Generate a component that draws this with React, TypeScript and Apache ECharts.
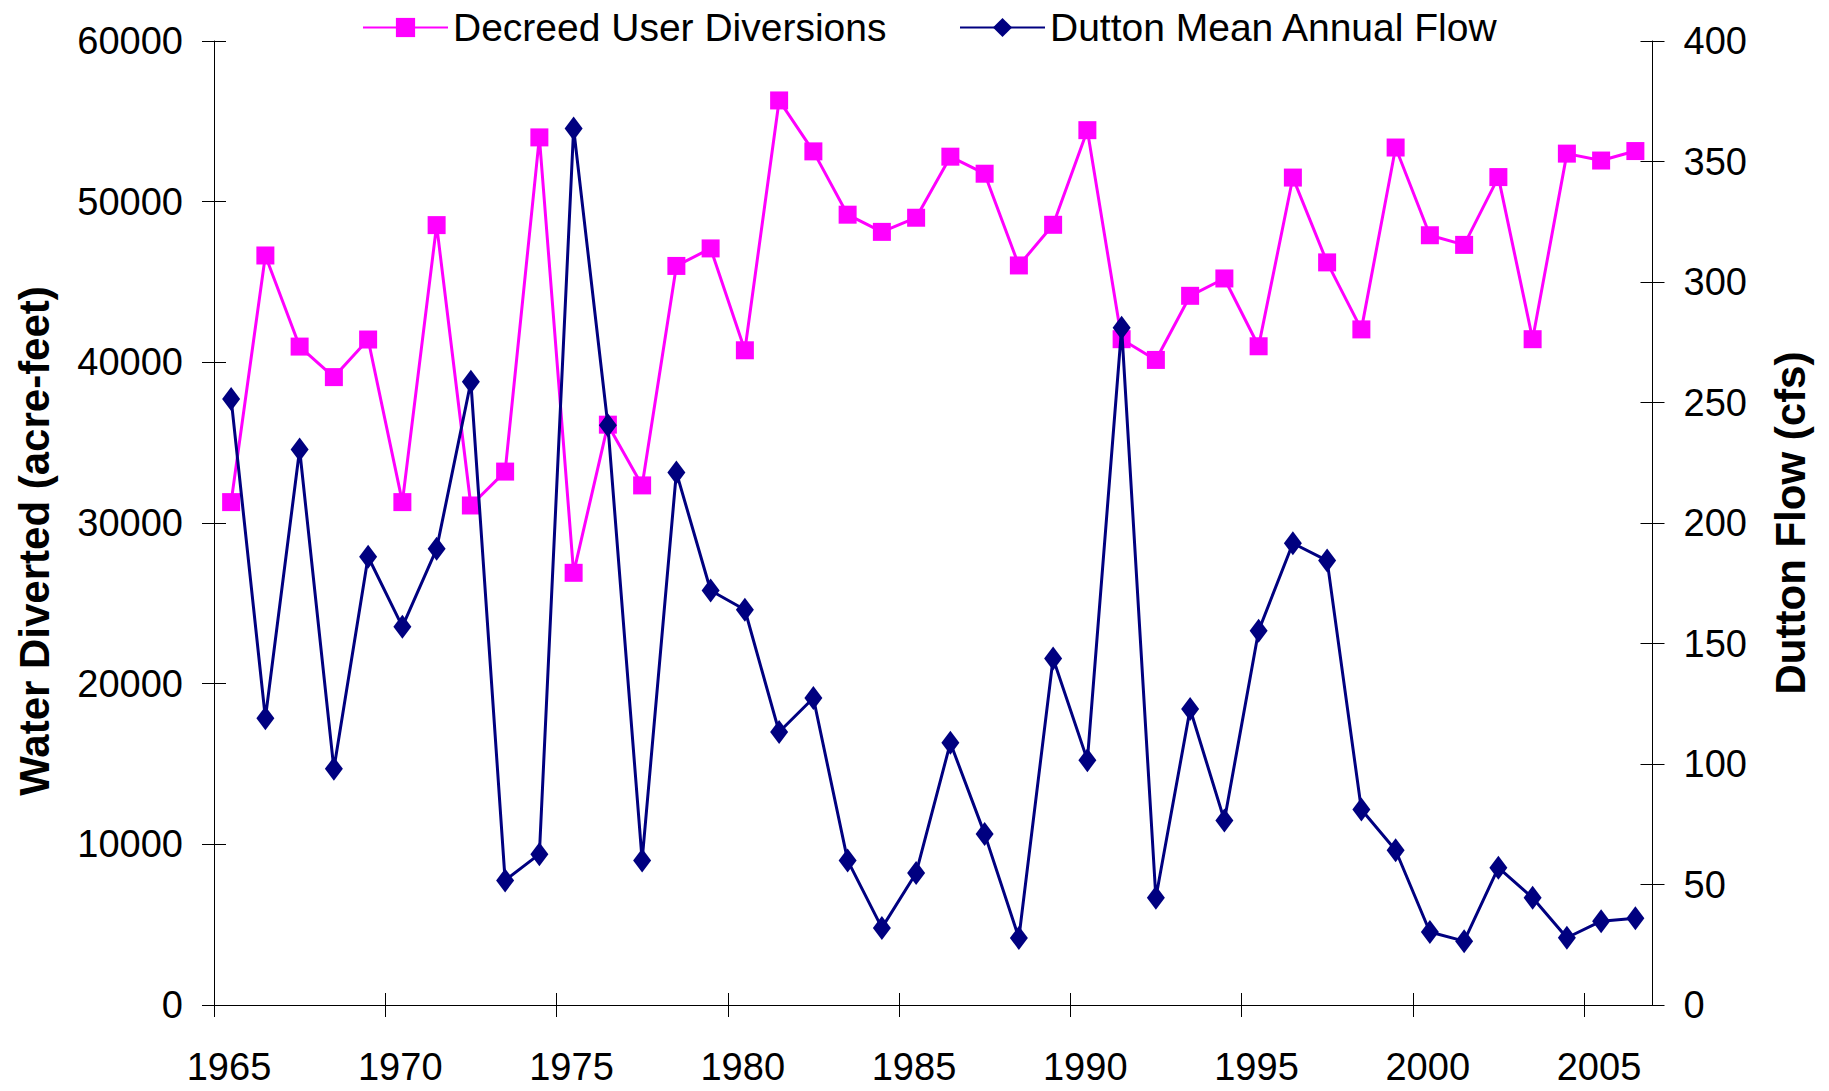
import React, { useEffect, useRef } from "react";
import * as echarts from "echarts";

const years = [
  1965, 1966, 1967, 1968, 1969, 1970, 1971, 1972, 1973, 1974,
  1975, 1976, 1977, 1978, 1979, 1980, 1981, 1982, 1983, 1984,
  1985, 1986, 1987, 1988, 1989, 1990, 1991, 1992, 1993, 1994,
  1995, 1996, 1997, 1998, 1999, 2000, 2001, 2002, 2003, 2004,
  2005, 2006,
];

const diversions = [
  31300, 46650, 40980, 39080, 41420, 31300, 48540, 31090, 33200, 54000,
  26900, 36120, 32340, 46000, 47090, 40750, 56300, 53130, 49190, 48120,
  49000, 52800, 51740, 46030, 48560, 54450, 41440, 40150, 44140, 45220,
  41000, 51500, 46220, 42050, 53370, 47910, 47310, 51530, 41440, 52990,
  52560, 53150,
];

const flow = [
  251.5, 119, 230.5, 98, 186, 157, 189.3, 258.6, 51.7, 62.6,
  363.7, 240.6, 60, 221, 172, 164, 113.3, 127.4, 60, 32,
  54.8, 108.8, 71, 27.8, 143.8, 101.6, 281, 44.5, 122.8, 76.6,
  155.3, 191.6, 184.4, 81.1, 64.2, 30.3, 26.5, 57, 44.5, 27.9,
  34.8, 36,
];

const xTickLabels = [1965, 1970, 1975, 1980, 1985, 1990, 1995, 2000, 2005];
const leftTicks = [0, 10000, 20000, 30000, 40000, 50000, 60000];
const rightTicks = [0, 50, 100, 150, 200, 250, 300, 350, 400];

const seriesNames = ["Decreed User Diversions", "Dutton Mean Annual Flow"];
const leftTitle = "Water Diverted (acre-feet)";
const rightTitle = "Dutton Flow (cfs)";

const FONT = "'Liberation Sans', Arial, sans-serif";
const PINK = "#FF00FF";
const NAVY = "#000080";

export default function App() {
  const ref = useRef<HTMLDivElement>(null);

  useEffect(() => {
    if (!ref.current) return;
    const chart = echarts.init(ref.current, null, { renderer: "svg" });

    const xMin = xTickLabels[0];
    const xMax = 2007;
    const tickLen = 12;

    const baseX = {
      type: "value",
      min: xMin,
      max: xMax,
      interval: 5,
      position: "bottom",
      splitLine: { show: false },
    };
    const baseLeft = {
      type: "value",
      min: leftTicks[0],
      max: leftTicks[leftTicks.length - 1],
      interval: 10000,
      position: "left",
      splitLine: { show: false },
    };
    const baseRight = {
      type: "value",
      min: rightTicks[0],
      max: rightTicks[rightTicks.length - 1],
      interval: 50,
      position: "right",
      splitLine: { show: false },
    };

    const legendText = { fontSize: 39, color: "#000", fontFamily: FONT };

    const option: any = {
      animation: false,
      backgroundColor: "#ffffff",
      textStyle: { fontFamily: FONT },
      grid: { left: 214, right: 176.5, top: 41, bottom: 86, containLabel: false },
      legend: [
        {
          data: [seriesNames[0]],
          left: 362,
          top: 8,
          padding: 0,
          itemWidth: 85,
          itemHeight: 24,
          textStyle: legendText,
        },
        {
          data: [seriesNames[1]],
          left: 959,
          top: 8,
          padding: 0,
          itemWidth: 85,
          itemHeight: 24,
          textStyle: legendText,
        },
      ],
      xAxis: [
        {
          ...baseX,
          axisLine: { show: true, onZero: false, lineStyle: { color: "#000", width: 1 } },
          axisTick: {
            show: true,
            inside: false,
            length: tickLen,
            customValues: xTickLabels,
            lineStyle: { color: "#000", width: 1 },
          },
          axisLabel: {
            show: true,
            customValues: xTickLabels,
            fontSize: 38,
            color: "#000",
            fontFamily: FONT,
            margin: 43,
            padding: [0, 0, 0, 30],
            formatter: (v: number) => String(v),
          },
        },
        {
          ...baseX,
          axisLine: { show: false },
          axisTick: {
            show: true,
            inside: true,
            length: tickLen,
            customValues: xTickLabels,
            lineStyle: { color: "#000", width: 1 },
          },
          axisLabel: { show: false },
        },
      ],
      yAxis: [
        {
          ...baseLeft,
          axisLine: { show: true, lineStyle: { color: "#000", width: 1 } },
          axisTick: { show: true, inside: false, length: tickLen, lineStyle: { color: "#000", width: 1 } },
          axisLabel: {
            fontSize: 38,
            color: "#000",
            fontFamily: FONT,
            margin: 31,
            formatter: (v: number) => String(v),
          },
        },
        {
          ...baseRight,
          axisLine: { show: true, lineStyle: { color: "#000", width: 1 } },
          axisTick: { show: true, inside: false, length: tickLen, lineStyle: { color: "#000", width: 1 } },
          axisLabel: {
            fontSize: 38,
            color: "#000",
            fontFamily: FONT,
            margin: 31,
            formatter: (v: number) => String(v),
          },
        },
        {
          ...baseLeft,
          axisLine: { show: false },
          axisTick: { show: true, inside: true, length: tickLen, lineStyle: { color: "#000", width: 1 } },
          axisLabel: { show: false },
        },
        {
          ...baseRight,
          axisLine: { show: false },
          axisTick: { show: true, inside: true, length: tickLen, lineStyle: { color: "#000", width: 1 } },
          axisLabel: { show: false },
        },
      ],
      graphic: [
        {
          type: "text",
          x: 34,
          y: 541,
          rotation: Math.PI / 2,
          style: {
            text: leftTitle,
            fontSize: 42,
            fontWeight: "bold",
            fontFamily: FONT,
            fill: "#000",
            align: "center",
            verticalAlign: "middle",
          },
        },
        {
          type: "text",
          x: 1790,
          y: 523,
          rotation: Math.PI / 2,
          style: {
            text: rightTitle,
            fontSize: 42,
            fontWeight: "bold",
            fontFamily: FONT,
            fill: "#000",
            align: "center",
            verticalAlign: "middle",
          },
        },
      ],
      series: [
        {
          name: seriesNames[0],
          type: "line",
          xAxisIndex: 0,
          yAxisIndex: 0,
          data: years.map((y, i) => [y + 0.5, diversions[i]]),
          symbol: "rect",
          symbolSize: 18,
          showAllSymbol: true,
          lineStyle: { color: PINK, width: 3 },
          itemStyle: { color: PINK, borderWidth: 0 },
          z: 2,
        },
        {
          name: seriesNames[1],
          type: "line",
          xAxisIndex: 0,
          yAxisIndex: 1,
          data: years.map((y, i) => [y + 0.5, flow[i]]),
          symbol: "diamond",
          symbolSize: [18, 24],
          showAllSymbol: true,
          lineStyle: { color: NAVY, width: 3 },
          itemStyle: { color: NAVY, borderWidth: 0 },
          z: 3,
        },
      ],
    };

    chart.setOption(option);
    return () => {
      chart.dispose();
    };
  }, []);

  return (
    <div
      ref={ref}
      style={{ position: "fixed", left: 0, top: 0, width: 1829, height: 1091 }}
    />
  );
}
